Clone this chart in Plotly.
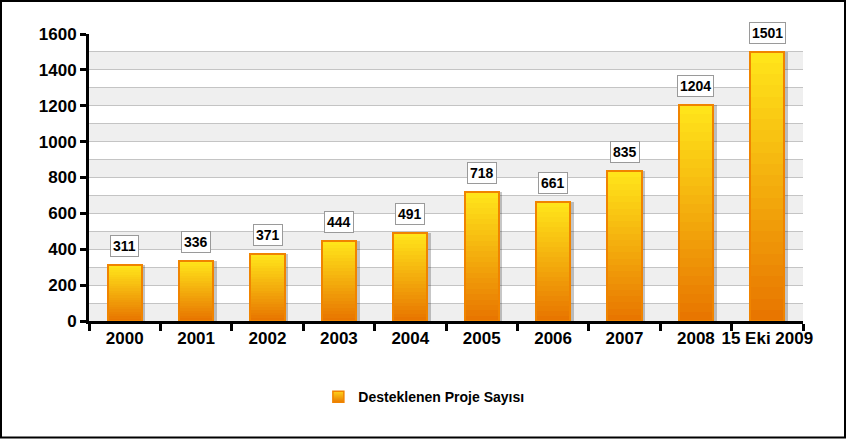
import plotly.graph_objects as go

categories = ["2000", "2001", "2002", "2003", "2004", "2005", "2006", "2007", "2008", "15 Eki 2009"]
values = [311, 336, 371, 444, 491, 718, 661, 835, 1204, 1501]
series_name = "Desteklenen Proje Sayısı"
y_ticks = [0, 200, 400, 600, 800, 1000, 1200, 1400, 1600]

W, H = 847, 439
ML, MR, MT, MB = 89, 44, 34, 118
PW = W - ML - MR
PH = H - MT - MB

top_rgb = (255, 228, 26)
bot_rgb = (232, 118, 0)
N = 24
BW = 0.48

fig = go.Figure()

# shadow
fig.add_trace(go.Bar(x=categories, y=values, width=BW, offset=-BW / 2 + 0.05,
                     marker=dict(color="rgba(0,0,0,0.22)", line=dict(width=0)),
                     showlegend=False, hoverinfo="skip"))

for i in range(N):
    t = i / (N - 1)
    c = tuple(round(bot_rgb[k] + (top_rgb[k] - bot_rgb[k]) * t) for k in range(3))
    fig.add_trace(go.Bar(
        x=categories, y=[v / N for v in values], base=[v * i / N for v in values],
        width=BW, marker=dict(color="rgb(%d,%d,%d)" % c, line=dict(width=0)),
        showlegend=False, hoverinfo="skip"))

# outline
fig.add_trace(go.Bar(x=categories, y=values, width=BW,
                     marker=dict(color="rgba(0,0,0,0)", line=dict(color="#F08400", width=2)),
                     showlegend=False, hoverinfo="skip"))

# legend item
fig.add_trace(go.Scatter(x=[None], y=[None], mode="markers", name=series_name,
                         marker=dict(symbol="square", size=11, color="#FFD21A",
                                     gradient=dict(type="vertical", color="#E87A00"),
                                     line=dict(color="#F08400", width=1.5))))

for i, v in enumerate(values):
    fig.add_annotation(x=i, y=v, text="<b>%d</b>" % v, showarrow=False, yanchor="middle",
                       yshift=19, bgcolor="white", bordercolor="#9a9a9a", borderwidth=1,
                       borderpad=2, font=dict(family="Liberation Sans, Arial", size=14, color="black"))

shapes = []
for b in range(0, 1600, 200):
    shapes.append(dict(type="rect", xref="paper", yref="y", x0=0, x1=1, y0=b, y1=b + 100,
                       fillcolor="#EFEFEF", line=dict(width=0), layer="below"))
# outer frame
shapes.append(dict(type="rect", xref="paper", yref="paper",
                   x0=-(ML - 1) / PW, x1=(PW + MR - 2) / PW,
                   y0=-(MB - 1.5) / PH, y1=(PH + MT - 1) / PH,
                   line=dict(color="black", width=2), fillcolor="rgba(0,0,0,0)"))

fig.update_layout(
    width=W, height=H,
    margin=dict(l=ML, r=MR, t=MT, b=MB, pad=0, autoexpand=False),
    paper_bgcolor="white", plot_bgcolor="white",
    barmode="overlay", bargap=0,
    shapes=shapes,
    showlegend=True,
    legend=dict(orientation="h", x=0.469, xanchor="center", y=-0.21, yanchor="top",
                font=dict(family="Liberation Sans, Arial", size=14, color="black", weight="bold")),
    font=dict(family="Liberation Sans, Arial", color="black"),
)

fig.update_xaxes(type="category", showline=True, linecolor="black", linewidth=3,
                 ticks="outside", tickson="boundaries", ticklen=7, tickwidth=3, tickcolor="black",
                 tickfont=dict(size=17, weight="bold"), tickangle=0, automargin=False,
                 showgrid=False, zeroline=False,
                 range=[-0.5, len(categories) - 0.5])

fig.update_yaxes(range=[0, 1600], tickvals=y_ticks, showline=True, linecolor="black", linewidth=3,
                 ticks="outside", ticklen=6, tickwidth=3, tickcolor="black",
                 tickfont=dict(size=17, weight="bold"), automargin=False,
                 showgrid=True, gridcolor="#C4C4C4",
                 gridwidth=1, zeroline=False,
                 minor=dict(dtick=100, showgrid=True, gridcolor="#C4C4C4", gridwidth=1, ticks=""))

fig.write_html("out.html")
